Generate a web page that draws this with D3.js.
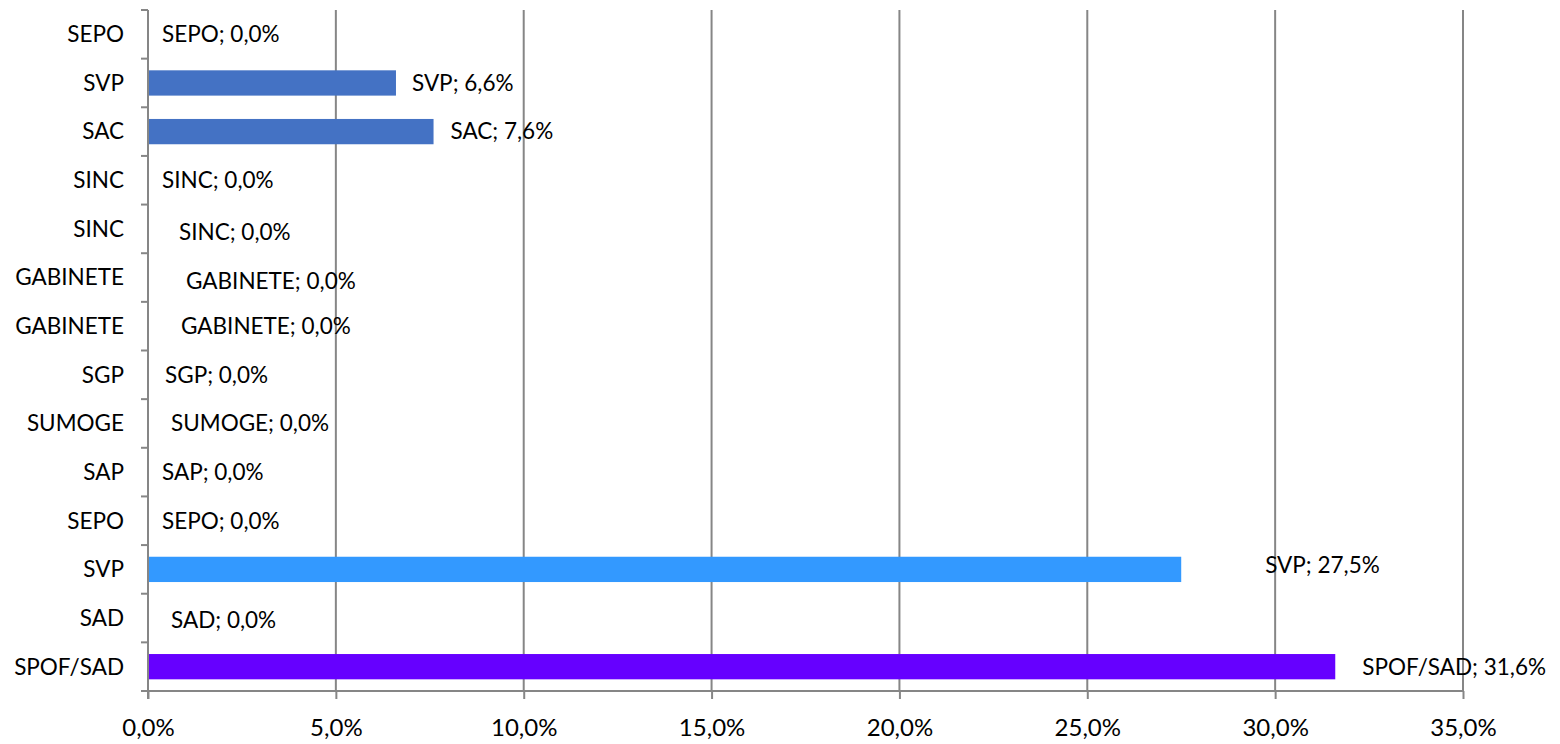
<!DOCTYPE html>
<html>
<head>
<meta charset="utf-8">
<script src="https://cdn.jsdelivr.net/npm/d3@7"></script>
<style>
  body { margin: 0; background: #fff; }
  text { font-family: Lato, "Open Sans", sans-serif; fill: #000; }
</style>
</head>
<body>
<div class="chart"></div>
<script>
// chart data (top to bottom)
var categories = ["SEPO", "SVP", "SAC", "SINC", "SINC", "GABINETE", "GABINETE",
                  "SGP", "SUMOGE", "SAP", "SEPO", "SVP", "SAD", "SPOF/SAD"];
var values = [0.0, 6.6, 7.6, 0.0, 0.0, 0.0, 0.0, 0.0, 0.0, 0.0, 0.0, 27.5, 0.0, 31.6];
var barColors = ["#4472C4", "#4472C4", "#4472C4", "#4472C4", "#4472C4", "#4472C4", "#4472C4",
                 "#4472C4", "#4472C4", "#4472C4", "#4472C4", "#3399FF", "#4472C4", "#6600FF"];
var xTicks = [0, 5, 10, 15, 20, 25, 30, 35];
// label offsets as placed in the original (pixels past bar end)
var labelDx = [14, 16, 17, 14, 31, 38, 33, 17, 23, 14, 14, 84, 23, 27];
var labelDy = [0, 0, 0, 0, 3, 4, 0, 0, 0, 0, 0, -4, 2, 0];

var svgWidth = 1560;
var svgHeight = 744;
var margin = {top: 10, right: 97, bottom: 53, left: 148};
var width = svgWidth - margin.left - margin.right;
var height = svgHeight - margin.top - margin.bottom;

var svg = d3.select(".chart")
    .append("svg")
    .attr("width", svgWidth)
    .attr("height", svgHeight);
var chart = svg.append("g")
    .attr("transform", "translate(" + margin.left + "," + margin.top + ")");

var fmt = function(v) { return v.toFixed(1).replace(".", ",") + "%"; };

var xScale = d3.scaleLinear().domain([0, 35]).range([0, width]);
var yScale = d3.scaleBand()
    .domain(d3.range(categories.length))
    .range([0, height])
    .paddingInner(0.48)
    .paddingOuter(0.24);

// vertical gridlines
chart.append("g")
    .selectAll("line")
    .data(xTicks.slice(1))
    .enter()
    .append("line")
    .attr("x1", function(d) { return xScale(d); })
    .attr("x2", function(d) { return xScale(d); })
    .attr("y1", 0)
    .attr("y2", height)
    .attr("stroke", "#868686")
    .attr("stroke-width", 2);

// bars
chart.selectAll("rect.bar")
    .data(values)
    .enter()
    .append("rect")
    .attr("class", "bar")
    .attr("x", xScale(0))
    .attr("y", function(d, i) { return yScale(i); })
    .attr("width", function(d) { return xScale(d) - xScale(0); })
    .attr("height", yScale.bandwidth())
    .attr("fill", function(d, i) { return barColors[i]; });

// x axis
var bottomAxis = d3.axisBottom(xScale)
    .tickValues(xTicks)
    .tickFormat(fmt)
    .tickSize(8)
    .tickPadding(20);
var xAxisG = chart.append("g")
    .attr("transform", "translate(0," + height + ")")
    .call(bottomAxis);
xAxisG.select(".domain").attr("stroke", "#868686").attr("stroke-width", 2)
    .attr("d", "M0,0H" + width);
xAxisG.selectAll(".tick line").attr("stroke", "#868686").attr("stroke-width", 2);
xAxisG.selectAll("text").style("font-size", "24px");

// y axis: line with ticks at band boundaries
var step = height / categories.length;
var yAxisG = chart.append("g");
yAxisG.append("line")
    .attr("x1", 0).attr("x2", 0)
    .attr("y1", 0).attr("y2", height + 8)
    .attr("stroke", "#868686").attr("stroke-width", 2);
yAxisG.selectAll("line.tk")
    .data(d3.range(categories.length + 1))
    .enter()
    .append("line")
    .attr("class", "tk")
    .attr("x1", -7).attr("x2", 0)
    .attr("y1", function(d) { return d * step; })
    .attr("y2", function(d) { return d * step; })
    .attr("stroke", "#868686").attr("stroke-width", 2);
yAxisG.selectAll("text")
    .data(categories)
    .enter()
    .append("text")
    .attr("x", -24)
    .attr("y", function(d, i) { return yScale(i) + yScale.bandwidth() / 2; })
    .attr("dy", "0.35em")
    .attr("text-anchor", "end")
    .style("font-size", "22.5px")
    .text(function(d) { return d; });

// data labels
chart.selectAll("text.lbl")
    .data(values)
    .enter()
    .append("text")
    .attr("class", "lbl")
    .attr("x", function(d, i) { return xScale(d) + labelDx[i]; })
    .attr("y", function(d, i) { return yScale(i) + yScale.bandwidth() / 2 + labelDy[i]; })
    .attr("dy", "0.35em")
    .style("font-size", "22.5px")
    .text(function(d, i) { return categories[i] + "; " + fmt(d); });
</script>
</body>
</html>
